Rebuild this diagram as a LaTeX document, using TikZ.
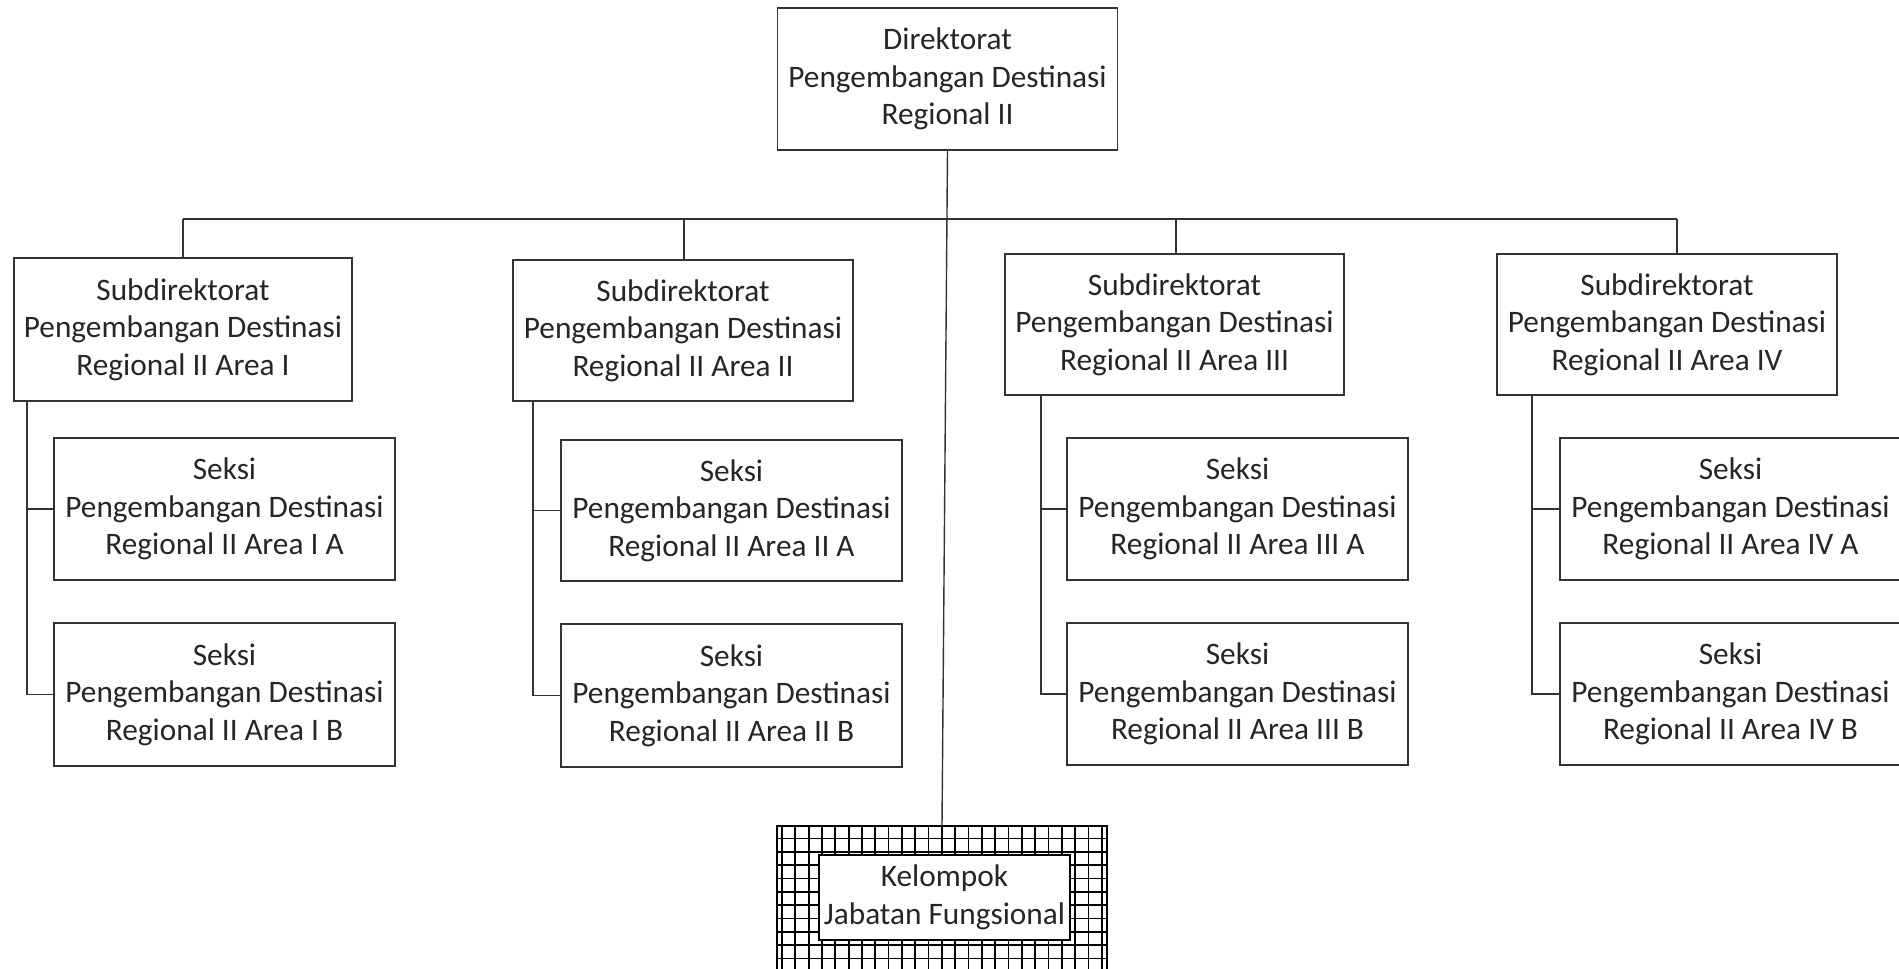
\documentclass[tikz,border=0pt]{standalone}
\usepackage{fontspec}
\setmainfont{Carlito}
\begin{document}
\begin{tikzpicture}[x=1pt,y=-1pt,
  every node/.style={font=\fontsize{31.3}{37.5}\selectfont, text=black!85},
  box/.style={draw=black!80, line width=1.4pt, rectangle, align=center, inner sep=0pt, fill=white},
  bigbox/.style={box, minimum width=340pt, minimum height=142pt},
  conn/.style={draw=black!80, line width=1.4pt},
  gridline/.style={draw=black, line width=1.7pt}]
\clip (0,0) rectangle (1899,969);
\fill[white] (0,0) rectangle (1899,969);

% top
\node[bigbox] (D) at (947.5,79) {Direktorat\\Pengembangan Destinasi\\Regional II};

% subdirectorates
\node[bigbox, minimum width=338pt, minimum height=143pt] (S1) at (183,329.5) {Subdirektorat\\Pengembangan Destinasi\\Regional II Area I};
\node[bigbox, minimum height=141pt] (S2) at (683,330.5) {Subdirektorat\\Pengembangan Destinasi\\Regional II Area II};
\node[bigbox, minimum width=339pt, minimum height=141pt] (S3) at (1174.5,324.5) {Subdirektorat\\Pengembangan Destinasi\\Regional II Area III};
\node[bigbox, minimum height=141pt] (S4) at (1667,324.5) {Subdirektorat\\Pengembangan Destinasi\\Regional II Area IV};

% sections
\node[bigbox, minimum width=341pt] (S1A) at (224.5,509) {Seksi\\Pengembangan Destinasi\\Regional II Area I A};
\node[bigbox, minimum width=341pt, minimum height=143pt] (S1B) at (224.5,694.5) {Seksi\\Pengembangan Destinasi\\Regional II Area I B};
\node[bigbox, minimum width=341pt, minimum height=141pt] (S2A) at (731.5,510.5) {Seksi\\Pengembangan Destinasi\\Regional II Area II A};
\node[bigbox, minimum width=341pt, minimum height=143pt] (S2B) at (731.5,695.5) {Seksi\\Pengembangan Destinasi\\Regional II Area II B};
\node[bigbox, minimum width=341pt] (S3A) at (1237.5,509) {Seksi\\Pengembangan Destinasi\\Regional II Area III A};
\node[bigbox, minimum width=341pt] (S3B) at (1237.5,694) {Seksi\\Pengembangan Destinasi\\Regional II Area III B};
\node[bigbox, minimum width=341pt] (S4A) at (1730.5,509) {Seksi\\Pengembangan Destinasi\\Regional II Area IV A};
\node[bigbox, minimum width=341pt] (S4B) at (1730.5,694) {Seksi\\Pengembangan Destinasi\\Regional II Area IV B};

% grid box
\begin{scope}
  \clip (777,826) rectangle (1107,975);
  \foreach \i in {0,...,25} \draw[gridline] ({782+13.33*\i},826) -- ({782+13.33*\i},975);
  \foreach \j in {0,...,11} \draw[gridline] (777,{838.5+13.33*\j}) -- (1107,{838.5+13.33*\j});
\end{scope}
\node[draw=black, line width=1.6pt, rectangle, minimum width=330pt, minimum height=164pt, inner sep=0pt] (G) at (942,908) {};
\node[box, draw=black, minimum width=251pt, minimum height=85pt] (K) at (944.5,897.5) {Kelompok\\Jabatan Fungsional};

% connectors
\coordinate (b1) at (183,219);
\coordinate (b2) at (684,219);
\coordinate (b3) at (1176,219);
\coordinate (b4) at (1677,219);
\draw[conn] (D.south) -- (G.north);
\draw[conn] (b1) -- (b4);
\draw[conn] (b1) -- (b1 |- S1.north);
\draw[conn] (b2) -- (b2 |- S2.north);
\draw[conn] (b3) -- (b3 |- S3.north);
\draw[conn] (b4) -- (b4 |- S4.north);

\coordinate (v1) at (27,0);
\coordinate (v2) at (533,0);
\coordinate (v3) at (1041,0);
\coordinate (v4) at (1532,0);
\draw[conn] (v1 |- S1.south) |- (S1B.west);
\draw[conn] (v1 |- S1A.west) -- (S1A.west);
\draw[conn] (v2 |- S2.south) |- (S2B.west);
\draw[conn] (v2 |- S2A.west) -- (S2A.west);
\draw[conn] (v3 |- S3.south) |- (S3B.west);
\draw[conn] (v3 |- S3A.west) -- (S3A.west);
\draw[conn] (v4 |- S4.south) |- (S4B.west);
\draw[conn] (v4 |- S4A.west) -- (S4A.west);
\end{tikzpicture}
\end{document}
